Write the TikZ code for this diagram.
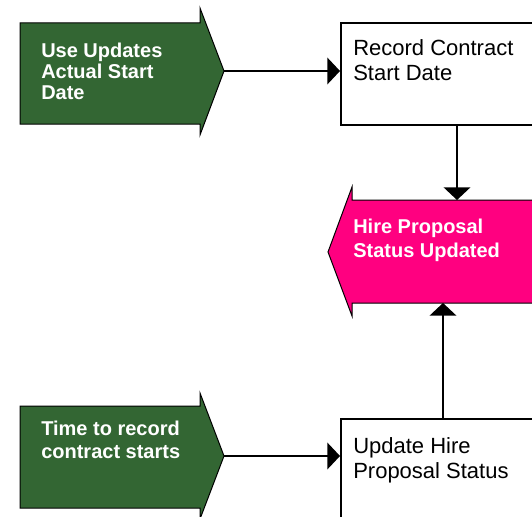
\documentclass[tikz,border=0pt]{standalone}
\usepackage{fontspec}
\setmainfont{Liberation Sans}
\usetikzlibrary{arrows.meta}
\definecolor{eventgreen}{HTML}{336633}
\definecolor{eventpink}{HTML}{FF0080}
\tikzset{
  eventshape/.style={draw=black, line width=0.75pt, line join=miter},
  procbox/.style={draw=black, line width=1.5pt, fill=white, inner sep=0pt, anchor=north west},
  evtext/.style={text=white, inner sep=0pt, anchor=north west, align=left,
    font=\fontsize{15}{16.5}\selectfont\bfseries},
  proctext/.style={text=black, inner sep=0pt, anchor=north west, align=left,
    font=\fontsize{16.5}{18.75}\selectfont},
  conn/.style={draw=black, line width=1.1pt,
    -{Triangle[width=20pt,length=9.5pt]}}
}
\begin{document}
\begin{tikzpicture}[x=0.75pt, y=-0.75pt]
\useasboundingbox (0,0) rectangle (532,517);
\clip (0,0) rectangle (532,517);

% process boxes (run past the right and bottom edges)
\node[procbox, minimum width=195pt, minimum height=76.5pt] (box1) at (340,22) {};
\node[procbox, minimum width=195pt, minimum height=112.5pt] (box2) at (340,418) {};
\node[proctext] (box1text) at (353,39.5) {Record Contract\\Start Date};
\node[proctext] (box2text) at (353,437) {Update Hire\\Proposal Status};

% trigger event: use updates actual start date
\coordinate (g1tip) at (224,71);
\filldraw[eventshape, fill=eventgreen] (20,23) -- (200,23) -- (200,8) -- (g1tip)
  -- (200,135) -- (200,124) -- (20,124) -- cycle;
\node[evtext, font=\fontsize{15}{15.75}\selectfont\bfseries] (g1text) at (41,42.7)
  {Use Updates\\Actual Start\\Date};

% trigger event: time to record contract starts
\coordinate (g2tip) at (224,456);
\filldraw[eventshape, fill=eventgreen] (20,406) -- (200,406) -- (200,393) -- (g2tip)
  -- (200,519) -- (200,508) -- (20,508) -- cycle;
\node[evtext, font=\fontsize{15}{17.25}\selectfont\bfseries] (g2text) at (41,420.7)
  {Time to record\\contract starts};

% result event: hire proposal status updated
\coordinate (pinktop) at (457,200);
\coordinate (pinkbot) at (443,303);
\filldraw[eventshape, fill=eventpink] (352,200) -- (352,187) -- (328,252) -- (352,316)
  -- (352,303) -- (600,303) -- (600,200) -- cycle;
\node[evtext, font=\fontsize{15}{18}\selectfont\bfseries] (ptext) at (353,218.7)
  {Hire Proposal\\Status Updated};

% connectors
\draw[conn] (g1tip) -- (g1tip -| box1.west);
\draw[conn] (g2tip) -- (g2tip -| box2.west);
\draw[conn] (pinktop |- box1.south) -- (pinktop);
\draw[conn] (pinkbot |- box2.north) -- (pinkbot);
\end{tikzpicture}
\end{document}
